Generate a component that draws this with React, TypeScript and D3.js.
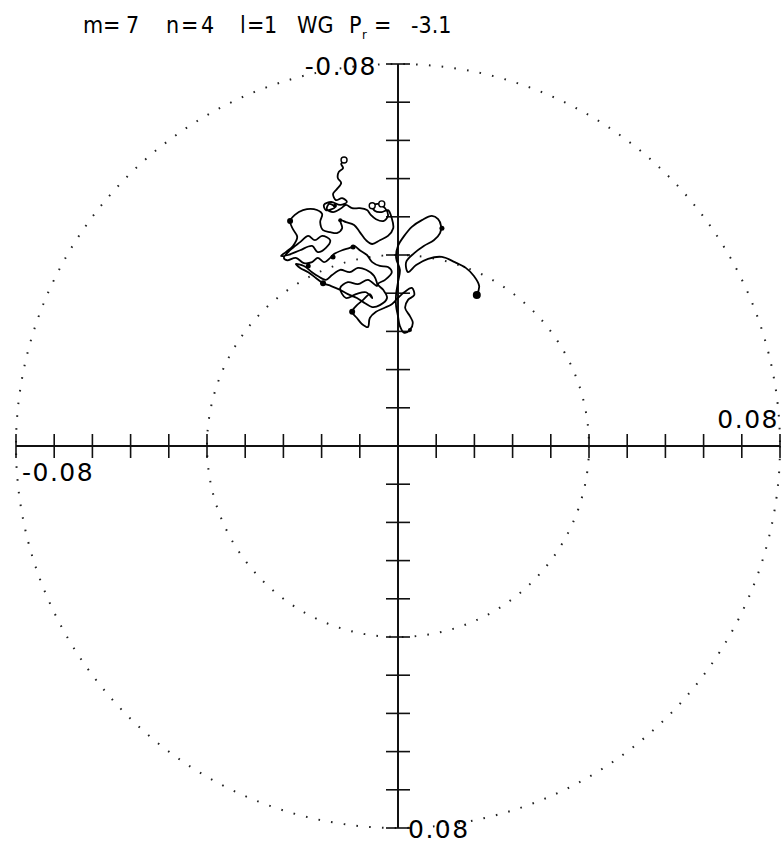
import React from "react";
import * as d3 from "d3";

// Axis ticks (data units): -0.08 .. 0.08 step 0.008
const tickValues = d3.range(-10, 11).map((i) => i * 0.008);
const circleRadii = [0.04, 0.08];
const axisLabels = ["-0.08", "0.08"];

// Trajectory (units of 1e-3)
const trajX = [
  -11.3, -11.9, -11.5, -12.4, -12.6, -11.9, -12.8, -13.6, -13.0,
  -11.7, -10.7, -12.1, -14.0, -15.5, -15.1, -13.2,
  -14.4, -14.9, -13.6, -11.9, -10.9, -9.6, -8.0, -6.5, -5.7, -4.6, -3.1,
  -2.1, -2.7, -4.2, -5.4, -4.8, -3.4, -2.1, -1.3, -1.0, -2.1, -3.8, -5.4, -6.7, -8.0, -9.2, -10.9, -12.1, -11.7, -12.8, -14.2,
  -15.7, -16.3, -15.9, -17.6, -19.9, -21.6, -22.6, -22.0, -21.1, -22.0, -23.5, -24.5,
  -23.0, -20.5, -18.0, -16.8, -15.1, -14.2, -15.9, -17.4, -18.8, -20.5, -22.6, -23.9,
  -23.2, -21.4, -19.7, -18.0, -16.8, -15.5, -14.2, -13.4,
  -11.7, -10.1, -9.2, -8.0, -6.5, -5.4, -3.8, -2.1, -1.3, -2.7, -4.2, -3.1, -2.3, -3.8, -5.4, -6.9, -8.6, -10.5, -12.1, -14.0,
  -15.7, -17.2, -18.8, -20.5, -21.4, -19.7, -18.0, -16.8, -15.1, -13.8, -12.1, -10.1, -8.4, -6.7, -5.0, -4.4,
  -6.3, -8.4, -10.5, -12.1, -10.9, -8.8, -6.7, -5.4,
  -5.9, -7.3, -8.8, -9.6,
  -8.6, -7.5, -6.3, -5.9, -4.6, -2.9, -1.3, 0.0, 1.3, 2.9, 3.4, 2.1, 1.5, 2.5, 3.1, 2.5, 1.3, 0.4, 0.0, -0.4,
  -0.4, 0.0, 0.4, -0.4, 0.0, 1.3, 2.9, 5.0, 7.1, 8.4, 9.0, 8.8, 7.5, 5.4, 3.4, 1.7, 2.1, 3.8, 6.3, 9.2,
  11.9, 14.2, 15.9, 17.0, 16.5,
];
const trajY = [
  -59.7, -59.1, -58.2, -57.4, -56.1, -55.1, -53.8, -52.8, -51.5,
  -51.9, -51.1, -50.5, -51.1, -50.5, -49.4, -50.0,
  -50.7, -49.6, -49.0, -49.8, -50.5, -49.8, -49.8, -49.4, -48.4, -47.5, -47.1,
  -48.2, -49.8, -50.7, -50.3, -49.2, -49.0, -49.4, -47.7, -45.6, -44.0, -43.1, -42.3, -43.1, -44.8, -46.3, -46.9, -47.3, -45.6, -44.6, -44.8,
  -45.2, -46.9, -48.6, -49.6, -49.4, -48.4, -47.1, -45.4, -43.8, -41.9, -40.6, -39.8,
  -40.0, -41.0, -41.9, -40.6, -41.5, -43.1, -44.0, -43.1, -44.0, -42.7, -41.0, -39.4,
  -38.9, -39.4, -38.3, -38.5, -39.4, -38.5, -39.4, -40.2,
  -41.0, -41.5, -41.9, -41.0, -40.0, -38.5, -37.7, -37.5, -36.4, -34.8, -33.9, -32.7, -31.0, -29.5, -29.1, -29.9, -31.0, -31.8, -32.7, -33.5,
  -34.1, -35.2, -36.4, -37.3, -38.1, -37.7, -36.4, -35.6, -34.8, -35.8, -36.9, -36.4, -37.3, -36.9, -35.6, -33.5,
  -34.8, -33.9, -34.3, -33.1, -31.0, -31.8, -32.2, -31.0,
  -31.8, -30.6, -29.3, -28.1,
  -26.8, -25.5, -24.9, -26.8, -28.1, -28.9, -29.7, -31.0, -32.2, -33.1, -31.6, -30.6, -28.9, -27.2, -25.8, -24.3, -23.7, -25.1, -27.2, -29.3,
  -31.8, -34.3, -36.9, -39.4, -41.9, -44.0, -45.9, -47.3, -48.2, -47.5, -46.1, -44.6, -43.1, -41.9, -40.4, -38.5, -36.4, -37.9, -39.2, -39.6,
  -38.5, -37.3, -35.6, -33.5, -31.6,
];

// Filled blobs along the trajectory (units of 1e-3)
const dotX = [16.5, -22.6, -15.7, -9.6, -9.4, -13.6, 9.2, -12.1, -18.8, 2.5, -13.2];
const dotY = [-31.6, -47.1, -34.1, -28.1, -41.7, -39.6, -45.6, -47.3, -37.7, -24.3, -50.3];
const dotR = [4, 3, 3, 3, 2.5, 2.5, 2.5, 2, 2.5, 2, 2];

// Small open loops (units of 1e-3)
const ringX = [-11.3, -5.4, -3.4];
const ringY = [-59.9, -50.3, -50.7];

// Title pieces
const titleParts = [
  { text: "m", x: 83 },
  { text: "=", x: 103 },
  { text: "7", x: 126 },
  { text: "n", x: 166 },
  { text: "=", x: 181 },
  { text: "4", x: 201 },
  { text: "l", x: 240 },
  { text: "=", x: 247 },
  { text: "1", x: 264 },
  { text: "WG", x: 297 },
  { text: "P", x: 349 },
  { text: "=", x: 374 },
  { text: "-3.1", x: 411 },
];

const W = 781;
const H = 845;
const cx = 398;
const cy = 446;
const R = 382;

export default function App() {
  const x = d3.scaleLinear().domain([-0.08, 0.08]).range([cx - R, cx + R]);
  const y = d3.scaleLinear().domain([-0.08, 0.08]).range([cy - R, cy + R]);
  const pts: [number, number][] = trajX.map((v, i) => [v / 1000, trajY[i] / 1000]);
  const line = d3
    .line<[number, number]>()
    .x((d) => x(d[0]))
    .y((d) => y(d[1]))
    .curve(d3.curveCatmullRom.alpha(0.5));
  const titleFont = "'DejaVu Sans Condensed', 'Liberation Sans Narrow', sans-serif";
  const labelFont = "'DejaVu Sans', sans-serif";
  return (
    <svg
      width={W}
      height={H}
      style={{ position: "absolute", left: 0, top: 0, background: "#fff" }}
    >
      <rect x={0} y={0} width={W} height={H} fill="#fff" />
      {/* dotted circles */}
      {circleRadii.map((r) => (
        <circle
          key={r}
          cx={x(0)}
          cy={y(0)}
          r={x(r) - x(0)}
          fill="none"
          stroke="#222"
          strokeWidth={2}
          strokeDasharray="1.6 11.2"
          strokeLinecap="butt"
        />
      ))}
      {/* axes */}
      <line x1={x(-0.08)} x2={x(0.08)} y1={y(0)} y2={y(0)} stroke="#111" strokeWidth={2} />
      <line x1={x(0)} x2={x(0)} y1={y(-0.08)} y2={y(0.08)} stroke="#111" strokeWidth={2} />
      {tickValues.map((t) => (
        <line
          key={"h" + t}
          x1={x(t)}
          x2={x(t)}
          y1={y(0) - 12}
          y2={y(0) + 12}
          stroke="#111"
          strokeWidth={1.6}
        />
      ))}
      {tickValues.map((t) => (
        <line
          key={"v" + t}
          x1={x(0) - 12}
          x2={x(0) + 12}
          y1={y(t)}
          y2={y(t)}
          stroke="#111"
          strokeWidth={1.6}
        />
      ))}
      {/* axis labels */}
      <text x={x(0) - 21} y={y(-0.08) + 11} fontFamily={labelFont} fontSize={25} textAnchor="end" letterSpacing={1.5}>
        {axisLabels[0]}
      </text>
      <text x={x(0.08) - 1} y={y(0) - 18} fontFamily={labelFont} fontSize={25} textAnchor="end" letterSpacing={1.5}>
        {axisLabels[1]}
      </text>
      <text x={x(-0.08) + 6} y={y(0) + 35} fontFamily={labelFont} fontSize={25} textAnchor="start" letterSpacing={1.5}>
        {axisLabels[0]}
      </text>
      <text x={x(0) + 10} y={y(0.08) + 10} fontFamily={labelFont} fontSize={25} textAnchor="start" letterSpacing={1.5}>
        {axisLabels[1]}
      </text>
      {/* title */}
      {titleParts.map((p) => (
        <text key={p.text + p.x} x={p.x} y={33} fontFamily={titleFont} fontSize={23}>
          {p.text}
        </text>
      ))}
      <text x={362} y={39} fontFamily={titleFont} fontSize={13}>
        r
      </text>
      {/* trajectory */}
      <path d={line(pts) || ""} fill="none" stroke="#000" strokeWidth={1.8} strokeLinejoin="round" />
      {dotX.map((v, i) => (
        <circle key={"d" + i} cx={x(v / 1000)} cy={y(dotY[i] / 1000)} r={dotR[i]} fill="#000" />
      ))}
      {ringX.map((v, i) => (
        <circle
          key={"r" + i}
          cx={x(v / 1000)}
          cy={y(ringY[i] / 1000)}
          r={3}
          fill="#fff"
          stroke="#000"
          strokeWidth={1.4}
        />
      ))}
    </svg>
  );
}
